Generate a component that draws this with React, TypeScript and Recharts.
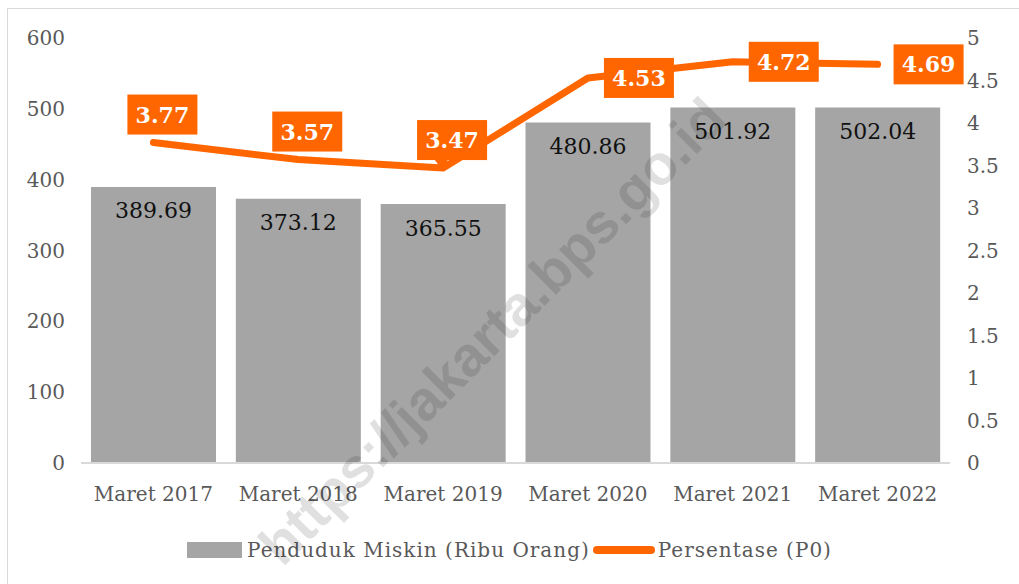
import { ComposedChart, Bar, Line, XAxis, YAxis, Legend, LabelList } from 'recharts';

const categories = ['Maret 2017', 'Maret 2018', 'Maret 2019', 'Maret 2020', 'Maret 2021', 'Maret 2022'];
const penduduk = [389.69, 373.12, 365.55, 480.86, 501.92, 502.04];
const persentase = [3.77, 3.57, 3.47, 4.53, 4.72, 4.69];
const leftTicks = [0, 100, 200, 300, 400, 500, 600];
const rightTicks = [0, 0.5, 1, 1.5, 2, 2.5, 3, 3.5, 4, 4.5, 5];

const data = categories.map((name, i) => ({
  name,
  penduduk: penduduk[i],
  persen: persentase[i],
}));

const GRAY = '#A5A5A5';
const ORANGE = '#FF6600';
const TEXT = '#595959';
const FONT = "'DejaVu Serif', serif";

const tickStyle = { fill: TEXT, fontSize: 20, fontFamily: FONT };

function PercentLabel(props: any) {
  const { x, y, value, index } = props;
  const w = 70;
  const h = 40;
  // first three callouts sit above the point, the last three to its right
  const cx = index < 3 ? x + 9 : x + 51;
  const cy = index < 3 ? y - 28 : y;
  return (
    <g>
      <rect x={cx - w / 2} y={cy - h / 2} width={w} height={h} fill={ORANGE} />
      {index === 2 && (
        <polygon
          points={`${cx - 18},${cy + h / 2 - 1} ${cx - 4},${cy + h / 2 - 1} ${x},${y + 3}`}
          fill={ORANGE}
        />
      )}
      <text
        x={cx}
        y={cy}
        textAnchor="middle"
        dominantBaseline="central"
        fill="#fff"
        fontSize={22}
        fontWeight="bold"
        fontFamily={FONT}
      >
        {value.toFixed(2)}
      </text>
    </g>
  );
}

function BarValueLabel(props: any) {
  const { x, y, width, value } = props;
  return (
    <text
      x={x + width / 2}
      y={y + 24}
      textAnchor="middle"
      dominantBaseline="central"
      fill="#111"
      fontSize={22}
      fontFamily={FONT}
    >
      {value.toFixed(2)}
    </text>
  );
}

function LegendContent() {
  return (
    <div
      style={{
        height: 46,
        paddingBottom: 12,
        boxSizing: 'border-box',
        display: 'flex',
        justifyContent: 'center',
        alignItems: 'center',
        fontFamily: FONT,
        fontSize: 20,
        letterSpacing: 1,
        color: TEXT,
      }}
    >
      <span style={{ width: 55, height: 16, background: GRAY, marginRight: 5 }} />
      <span>Penduduk Miskin (Ribu Orang)</span>
      <span
        style={{ width: 62, height: 8, borderRadius: 4, background: ORANGE, margin: '0 3px 0 3px' }}
      />
      <span>Persentase (P0)</span>
    </div>
  );
}

export default function App() {
  return (
    <div
      style={{
        position: 'fixed',
        left: 7,
        top: 8,
        width: 1030,
        height: 600,
        border: '1px solid #D9D9D9',
        background: '#fff',
        overflow: 'hidden',
      }}
    >
      <ComposedChart
        width={1003}
        height={570}
        data={data}
        margin={{ top: 29, right: 0, bottom: 0, left: 0 }}
        barCategoryGap={10}
      >
        <XAxis
          dataKey="name"
          tick={tickStyle}
          tickLine={false}
          tickMargin={18}
          axisLine={{ stroke: '#D9D9D9', strokeWidth: 2 }}
          height={70}
        />
        <YAxis
          yAxisId="left"
          domain={[0, 600]}
          ticks={leftTicks}
          tick={tickStyle}
          tickLine={false}
          axisLine={false}
          tickMargin={10}
          width={73}
        />
        <YAxis
          yAxisId="right"
          orientation="right"
          domain={[0, 5]}
          ticks={rightTicks}
          tick={tickStyle}
          tickLine={false}
          axisLine={false}
          tickMargin={11}
          width={61}
        />
        <Legend verticalAlign="bottom" height={46} content={<LegendContent />} />
        <Bar yAxisId="left" dataKey="penduduk" fill={GRAY} isAnimationActive={false}>
          <LabelList dataKey="penduduk" content={<BarValueLabel />} />
        </Bar>
        <Line
          yAxisId="right"
          dataKey="persen"
          type="linear"
          stroke={ORANGE}
          strokeWidth={7}
          strokeLinecap="round"
          strokeLinejoin="round"
          dot={false}
          isAnimationActive={false}
        >
          <LabelList dataKey="persen" content={<PercentLabel />} />
        </Line>
      </ComposedChart>
      <svg
        width={1030}
        height={600}
        style={{ position: 'absolute', left: 0, top: 0, pointerEvents: 'none' }}
      >
        <text
          x={484}
          y={322}
          transform="rotate(-45 484 322)"
          textAnchor="middle"
          dominantBaseline="central"
          fontFamily="'Liberation Sans', Arial, sans-serif"
          fontWeight="bold"
          fontSize={56}
          fill="#000"
          fillOpacity={0.12}
        >
          https://jakarta.bps.go.id
        </text>
      </svg>
    </div>
  );
}
